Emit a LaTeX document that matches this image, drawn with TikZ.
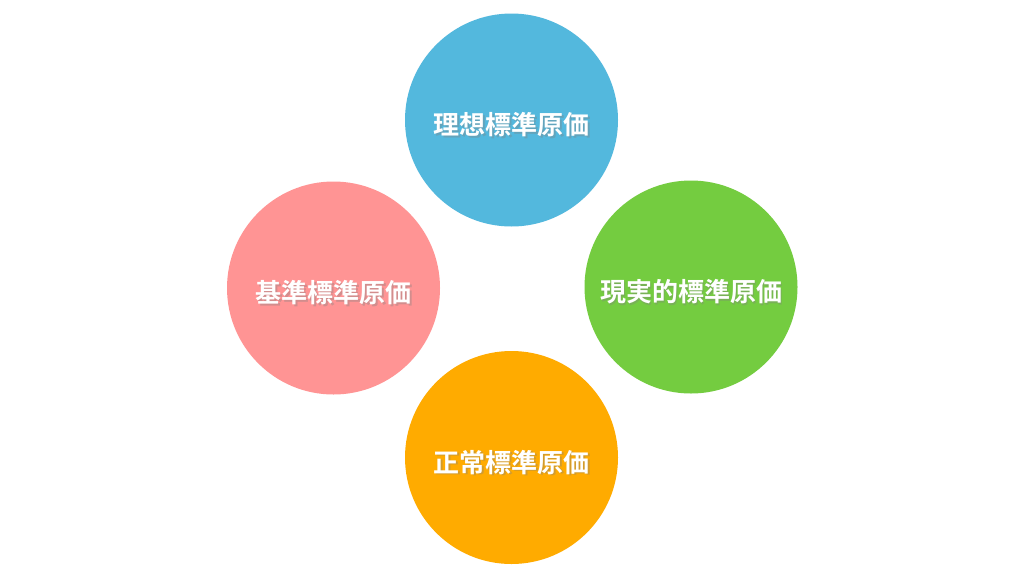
\documentclass[tikz,border=0pt]{standalone}
\usepackage{fontspec}
\newfontfamily\cjk{Noto Sans CJK JP}[BoldFont={Noto Sans CJK JP Bold}]
\definecolor{cblue}{HTML}{53B8DD}
\definecolor{cgreen}{HTML}{74CC40}
\definecolor{cpink}{HTML}{FF9494}
\definecolor{corange}{HTML}{FFAB00}
\tikzset{
  disc/.style={circle, minimum size=213pt, inner sep=0pt, draw=none},
  lbl/.style={text=white, font=\cjk\bfseries\fontsize{26pt}{30pt}\selectfont, inner sep=0pt},
  shd/.style={text=black!50, opacity=0.35, font=\cjk\bfseries\fontsize{26pt}{30pt}\selectfont, inner sep=0pt}
}
\begin{document}
\begin{tikzpicture}[x=1pt,y=-1pt]
\useasboundingbox[fill=white] (0,0) rectangle (1024,576);
\node[disc, fill=cblue]   (top)    at (511.5,120) {};
\node[disc, fill=cpink]   (left)   at (333.5,288) {};
\node[disc, fill=cgreen]  (right)  at (691,287) {};
\node[disc, fill=corange] (bottom) at (511.5,457.5) {};
\foreach \n/\t in {top/理想標準原価, left/基準標準原価, right/現実的標準原価, bottom/正常標準原価}{
  \node[shd] (\n s) at ([xshift=1.5pt,yshift=-6.5pt]\n.center) {\t};
  \node[lbl] (\n t) at ([yshift=-5pt]\n.center) {\t};
}
\end{tikzpicture}
\end{document}
